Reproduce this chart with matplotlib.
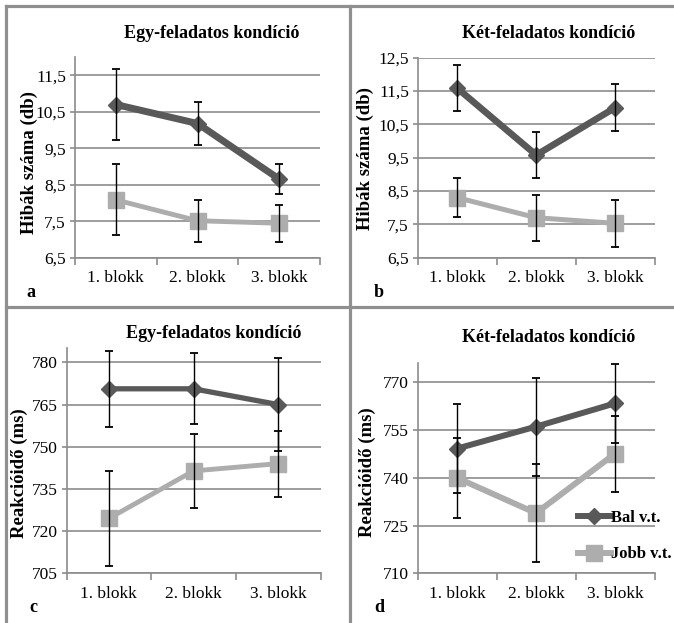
import matplotlib
matplotlib.use("Agg")
import matplotlib.pyplot as plt
from matplotlib.lines import Line2D

plt.rcParams['font.family'] = ['Liberation Serif', 'DejaVu Serif']

W, H = 674, 623

blocks = ['1. blokk', '2. blokk', '3. blokk']

# hibák száma, egy-feladatos
a_bal = [10.70, 10.18, 8.66]
a_bal_err = [0.96, 0.58, 0.40]
a_jobb = [8.09, 7.52, 7.45]
a_jobb_err = [0.97, 0.58, 0.51]

# hibák száma, két-feladatos
b_bal = [11.58, 9.58, 11.00]
b_bal_err = [0.69, 0.68, 0.70]
b_jobb = [8.30, 7.70, 7.53]
b_jobb_err = [0.58, 0.69, 0.70]

# reakcióidő, egy-feladatos
c_bal = [770.6, 770.6, 765.0]
c_bal_err = [13.6, 12.6, 16.6]
c_jobb = [724.5, 741.4, 744.0]
c_jobb_err = [16.8, 13.2, 11.7]

# reakcióidő, két-feladatos
d_bal = [749.2, 756.1, 763.4]
d_bal_err = [14.0, 15.4, 12.3]
d_jobb = [740.0, 728.9, 747.6]
d_jobb_err = [12.6, 15.3, 11.9]

a_ticks = [6.5, 7.5, 8.5, 9.5, 10.5, 11.5]
b_ticks = [6.5, 7.5, 8.5, 9.5, 10.5, 11.5, 12.5]
c_ticks = [705, 720, 735, 750, 765, 780]
d_ticks = [710, 725, 740, 755, 770]

DARK = '#595959'
LIGHT = '#adadad'
GRID = '#8c8c8c'


def rect(left, top, right, bottom):
    return [left / W, 1 - bottom / H, (right - left) / W, (bottom - top) / H]


def fx(x):
    return x / W


def fy(y):
    return 1 - y / H


fig = plt.figure(figsize=(W / 100, H / 100), dpi=100)


def panel(box, bal, bal_err, jobb, jobb_err, yticks, ylim, fmt, lws):
    ax = fig.add_axes(rect(*box))
    x = [1, 2, 3]
    ax.set_xlim(0.5, 3.5)
    ax.set_ylim(*ylim)
    ax.set_yticks(yticks)
    ax.set_yticklabels([fmt(v) for v in yticks], fontsize=12.5)
    ax.yaxis.grid(True, color=GRID, lw=1.2)
    ax.set_axisbelow(True)
    ax.set_xticks([0.5, 1.5, 2.5, 3.5])
    ax.set_xticklabels([])
    ax.set_xticks(x, minor=True)
    ax.set_xticklabels(blocks, minor=True, fontsize=12.5)
    ax.tick_params(axis='x', which='major', length=5, color=GRID, width=1.2)
    ax.tick_params(axis='x', which='minor', length=0, pad=9)
    ax.tick_params(axis='y', length=3.5, color=GRID, width=1.2, pad=3)
    for s in ['top', 'right']:
        ax.spines[s].set_visible(False)
    for s in ['left', 'bottom']:
        ax.spines[s].set_color(GRID)
        ax.spines[s].set_linewidth(1.2)
    ax.plot(x, bal, color=DARK, lw=lws[0], marker='D', ms=8.5, zorder=3,
            solid_joinstyle='miter', label='Bal v.t.')
    ax.plot(x, jobb, color=LIGHT, lw=lws[1], marker='s', ms=11, zorder=3,
            solid_joinstyle='miter', label='Jobb v.t.')
    ax.errorbar(x, bal, yerr=bal_err, fmt='none', ecolor='black',
                elinewidth=1.0, capsize=3, capthick=1.3, zorder=4)
    ax.errorbar(x, jobb, yerr=jobb_err, fmt='none', ecolor='black',
                elinewidth=1.0, capsize=3, capthick=1.3, zorder=4)
    return ax


def comma(v):
    return f"{v:.1f}".replace('.', ',')


def whole(v):
    return f"{v:.0f}"


panel((75, 57, 320, 258), a_bal, a_bal_err, a_jobb, a_jobb_err,
      a_ticks, (6.5, 12.0), comma, (5.0, 3.5))
panel((418, 57.7, 654.5, 257.7), b_bal, b_bal_err, b_jobb, b_jobb_err,
      b_ticks, (6.5, 12.5), comma, (4.8, 3.6))
panel((66.5, 348.3, 320.5, 573.3), c_bal, c_bal_err, c_jobb, c_jobb_err,
      c_ticks, (705, 785), whole, (3.8, 3.5))
axd = panel((417.5, 363.3, 654.5, 573.3), d_bal, d_bal_err, d_jobb, d_jobb_err,
            d_ticks, (710, 776), whole, (4.3, 4.3))

handles, labels = axd.get_legend_handles_labels()
fig.legend(handles, labels, loc='upper left',
           bbox_to_anchor=(fx(571), fy(503)), frameon=False,
           prop={'weight': 'bold', 'size': 12}, handlelength=2.0,
           handletextpad=0.0, labelspacing=1.25, borderaxespad=0)

titles = [('Egy-feladatos kondíció', 212, 33),
          ('Két-feladatos kondíció', 549, 33),
          ('Egy-feladatos kondíció', 214, 334),
          ('Két-feladatos kondíció', 549, 337)]
for t, px, py in titles:
    fig.text(fx(px), fy(py), t, ha='center', va='center',
             fontsize=13, fontweight='bold')

ylabels = [('Hibák száma (db)', 29, 162),
           ('Hibák száma (db)', 365, 159),
           ('Reakcióidő (ms)', 19, 473),
           ('Reakcióidő (ms)', 367, 472)]
for t, px, py in ylabels:
    fig.text(fx(px), fy(py), t, ha='center', va='center', rotation=90,
             fontsize=13.5, fontweight='bold')

letters = [('a', 31, 293), ('b', 379, 293), ('c', 33, 608), ('d', 379, 608)]
for t, px, py in letters:
    fig.text(fx(px), fy(py), t, ha='center', va='center',
             fontsize=13, fontweight='bold')

# panel frame lines
frame = dict(color='#8f8f8f', lw=2.3, transform=fig.transFigure)
fig.add_artist(Line2D([fx(5.5), fx(5.5)], [fy(5.5), fy(623)], **frame))
fig.add_artist(Line2D([fx(5.5), fx(674)], [fy(5.5), fy(5.5)], **frame))
fig.add_artist(Line2D([fx(349.5), fx(349.5)], [fy(5.5), fy(623)], **frame))
fig.add_artist(Line2D([fx(5.5), fx(674)], [fy(307), fy(307)], **frame))

fig.savefig('out.png', dpi=100)
